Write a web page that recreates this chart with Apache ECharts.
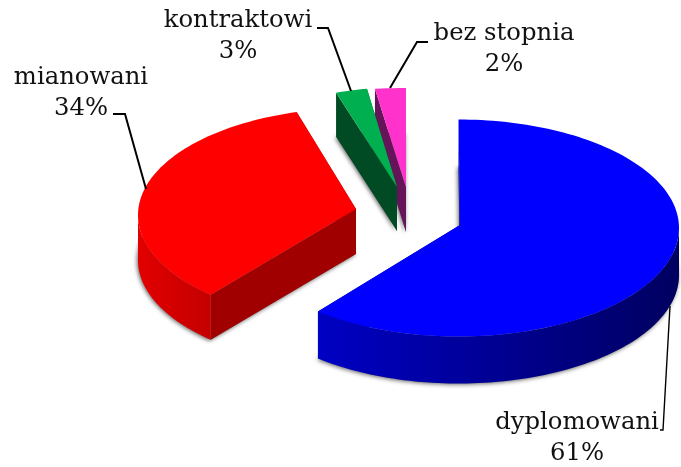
<!DOCTYPE html>
<html>
<head>
<meta charset="utf-8">
<style>html,body{margin:0;padding:0;background:#fff}#c{width:681px;height:467px}</style>
<script src="https://cdn.jsdelivr.net/npm/echarts@6/dist/echarts.min.js"></script>
</head>
<body>
<div id="c"></div>
<script>
// ---- data ----
const categories = ['dyplomowani', 'mianowani', 'kontraktowi', 'bez stopnia'];
const shares = [61, 34, 3, 2];
const labels = ['dyplomowani\n61%', 'mianowani\n34%', 'kontraktowi\n3%', 'bez stopnia\n2%'];

// ---- styling and layout of the perspective pie ----
const topColors = ['#0000ff', '#ff0000', '#00b050', '#ff33cc'];
const sideFrom = ['#0000c4', '#e20000', '#004b23', '#66145a'];
const sideTo = ['#000060', '#c40000', '#004b23', '#66145a'];
const cutColors = ['#00007a', '#a00000', '#004b23', '#66145a'];
// perspective projection of each exploded slice: ellipse centre, radii, apex, thickness, angular skew
const sliceCx = [458.5, 356, 388, 406];
const sliceCy = [228, 215, 186, 188];
const sliceRx = [220.5, 218, 168, 248];
const sliceRy = [108.5, 107, 98, 100];
const apexX = [460, 356, 397, 406];
const apexY = [225, 209, 187, 187];
const thickness = [47, 45, 44, 45];
const skewDeg = [0, 2.2, 0, 0];
// labels and leader lines
const labelX = [577, 81, 238, 504];
const labelY = [438, 93, 36, 49];
const leaderWidth = [1.4, 2, 2, 2];
const leaders = [
  [[660, 430], [663, 430], [670, 306]],
  [[113, 114], [125, 114], [146, 189]],
  [[317, 28], [328, 28], [351, 91]],
  [[428, 42], [417, 42], [390, 88]]
];
const FONT = '"DejaVu Serif"';
const FONT_SIZE = 24.3;

const chart = echarts.init(document.getElementById('c'), null, {renderer: 'canvas'});
const total = shares.reduce((a, b) => a + b, 0);
const starts = [];
shares.reduce((acc, v, i) => { starts[i] = acc; return acc + v; }, 0);

function pt(i, deg, dy) {
  const r = (deg + skewDeg[i]) * Math.PI / 180;
  return [sliceCx[i] + sliceRx[i] * Math.sin(r), sliceCy[i] - sliceRy[i] * Math.cos(r) + (dy || 0)];
}
function arc(i, a0, a1, dy) {
  const out = [], n = Math.max(2, Math.ceil((a1 - a0) / 1.5));
  for (let k = 0; k <= n; k++) out.push(pt(i, a0 + (a1 - a0) * k / n, dy));
  return out;
}

function renderItem(params, api) {
  const i = params.dataIndex;
  const a0 = starts[i] / total * 360;
  const a1 = a0 + api.value(0) / total * 360;
  const d = thickness[i];
  const ax = apexX[i], ay = apexY[i];
  const base = (4 - i) * 10;
  const children = [];
  // soft shadow under the base outline
  children.push({
    type: 'polygon', z2: base,
    shape: {points: [[ax, ay + d]].concat(arc(i, a0, a1, d))},
    style: {fill: '#888', shadowBlur: 4, shadowColor: 'rgba(0,0,0,0.6)', shadowOffsetX: -1, shadowOffsetY: 1}
  });
  // straight cut walls
  const pa = pt(i, a0), pb = pt(i, a1);
  [pa, pb].forEach(p => children.push({
    type: 'polygon', z2: base + 1,
    shape: {points: [[ax, ay], p, [p[0], p[1] + d], [ax, ay + d]]},
    style: {fill: cutColors[i]}
  }));
  // curved outer wall: only where it faces the viewer
  const v0 = Math.max(a0, 90 - skewDeg[i]), v1 = Math.min(a1, 270 - skewDeg[i]);
  if (v1 > v0) {
    const topArc = arc(i, v0, v1, 0), botArc = arc(i, v0, v1, d).reverse();
    const xs = topArc.map(p => p[0]);
    const minX = Math.min.apply(null, xs), maxX = Math.max.apply(null, xs);
    children.push({
      type: 'polygon', z2: base + 2,
      shape: {points: topArc.concat(botArc)},
      style: {fill: new echarts.graphic.LinearGradient(minX, 0, maxX, 0, [
        {offset: 0, color: sideFrom[i]},
        {offset: 1, color: sideTo[i]}
      ], true)}
    });
  }
  // top face
  children.push({
    type: 'polygon', z2: base + 3,
    shape: {points: [[ax, ay]].concat(arc(i, a0, a1, 0))},
    style: {fill: topColors[i]}
  });
  // leader line and label
  children.push({
    type: 'polyline', z2: 100,
    shape: {points: leaders[i]},
    style: {fill: 'none', stroke: '#000', lineWidth: leaderWidth[i]}
  });
  children.push({
    type: 'text', z2: 101,
    style: {
      x: labelX[i], y: labelY[i], text: labels[i], fill: '#111',
      font: FONT_SIZE + 'px ' + FONT, lineHeight: 31,
      align: 'center', verticalAlign: 'middle'
    }
  });
  return {type: 'group', children: children};
}

chart.setOption({
  animation: false,
  backgroundColor: '#ffffff',
  series: [{
    type: 'custom',
    coordinateSystem: 'none',
    renderItem: renderItem,
    data: shares.map((v, i) => ({name: categories[i], value: [v]}))
  }]
});
</script>
</body>
</html>
